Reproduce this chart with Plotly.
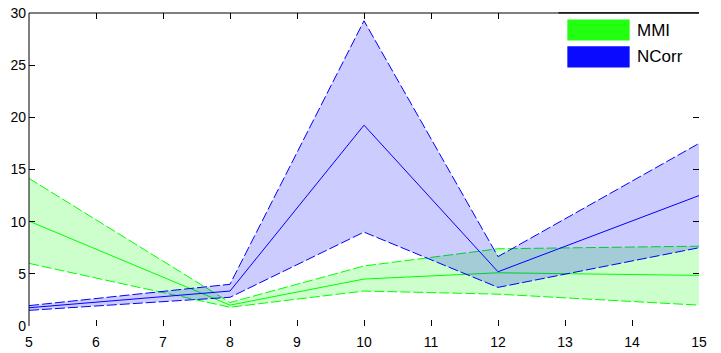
import plotly.graph_objects as go

x = [5, 8, 10, 12, 15]

mmi_mean = [10.05, 2.0, 4.5, 5.1, 4.85]
mmi_upper = [14.15, 2.25, 5.75, 7.4, 7.65]
mmi_lower = [6.0, 1.8, 3.35, 3.05, 2.0]

ncorr_mean = [1.75, 3.35, 19.25, 5.2, 12.5]
ncorr_upper = [1.95, 4.0, 29.25, 6.65, 17.5]
ncorr_lower = [1.5, 2.75, 9.0, 3.7, 7.5]

series = [
    ("MMI", mmi_lower, mmi_upper, mmi_mean, "#00ff00", "rgba(0,255,0,0.2)"),
    ("NCorr", ncorr_lower, ncorr_upper, ncorr_mean, "#0000ff", "rgba(0,0,255,0.2)"),
]

fig = go.Figure()
for name, lo, up, mn, lc, fc in series:
    fig.add_trace(go.Scatter(x=x, y=lo, mode="lines",
                             line=dict(color=lc, width=1, dash="10px,3px"),
                             showlegend=False, hoverinfo="skip"))
    fig.add_trace(go.Scatter(x=x, y=up, mode="lines", fill="tonexty", fillcolor=fc,
                             line=dict(color=lc, width=1, dash="10px,3px"),
                             showlegend=False, hoverinfo="skip"))
    fig.add_trace(go.Scatter(x=x, y=mn, mode="lines", name=name,
                             line=dict(color=lc, width=1), showlegend=False))

font = dict(family="Liberation Sans, Arial, sans-serif", size=14, color="black")

fig.update_layout(
    width=721, height=353,
    margin=dict(l=29, r=22, t=13, b=27),
    paper_bgcolor="white", plot_bgcolor="white",
    font=font,
    showlegend=False,
    xaxis=dict(range=[5, 15], tickvals=list(range(5, 16)), ticks="inside", ticklen=6,
               tickcolor="black", mirror="ticks", showline=False, showgrid=False,
               zeroline=False, tickfont=font, automargin=False, ticklabelstandoff=6),
    yaxis=dict(range=[0, 30], tickvals=list(range(0, 31, 5)), ticks="inside", ticklen=6,
               tickcolor="black", mirror="ticks", showline=False, showgrid=False,
               zeroline=False, tickfont=font, automargin=False, ticklabelstandoff=2),
)

# axes lines (left and top only, as in the reference)
fig.add_shape(type="line", xref="paper", yref="paper", x0=0, x1=0, y0=0, y1=1,
              line=dict(color="black", width=1))
fig.add_shape(type="line", xref="paper", yref="paper", x0=0, x1=1, y0=1, y1=1,
              line=dict(color="black", width=1))

# legend box
lx0, lx1 = 0.79, 1.0
fig.add_shape(type="rect", xref="paper", yref="paper", x0=lx0, x1=lx1, y0=0.80, y1=1.0,
              fillcolor="white", line=dict(width=0), layer="above")
fig.add_shape(type="line", xref="paper", yref="paper", x0=lx0, x1=1, y0=1, y1=1,
              line=dict(color="black", width=1.5), layer="above")
legend_items = [("MMI", "#22ff11", 0.979, 0.912), ("NCorr", "#0a0aff", 0.894, 0.826)]
for label, col, ytop, ybot in legend_items:
    fig.add_shape(type="rect", xref="paper", yref="paper", x0=0.8035, x1=0.8965,
                  y0=ybot, y1=ytop, fillcolor=col, line=dict(width=0), layer="above")
    fig.add_annotation(xref="paper", yref="paper", x=0.904, y=(ytop + ybot) / 2,
                       text=label, showarrow=False, xanchor="left", yanchor="middle",
                       font=dict(family="Liberation Sans, Arial, sans-serif", size=17,
                                 color="black"))

fig.write_html("out.html")
